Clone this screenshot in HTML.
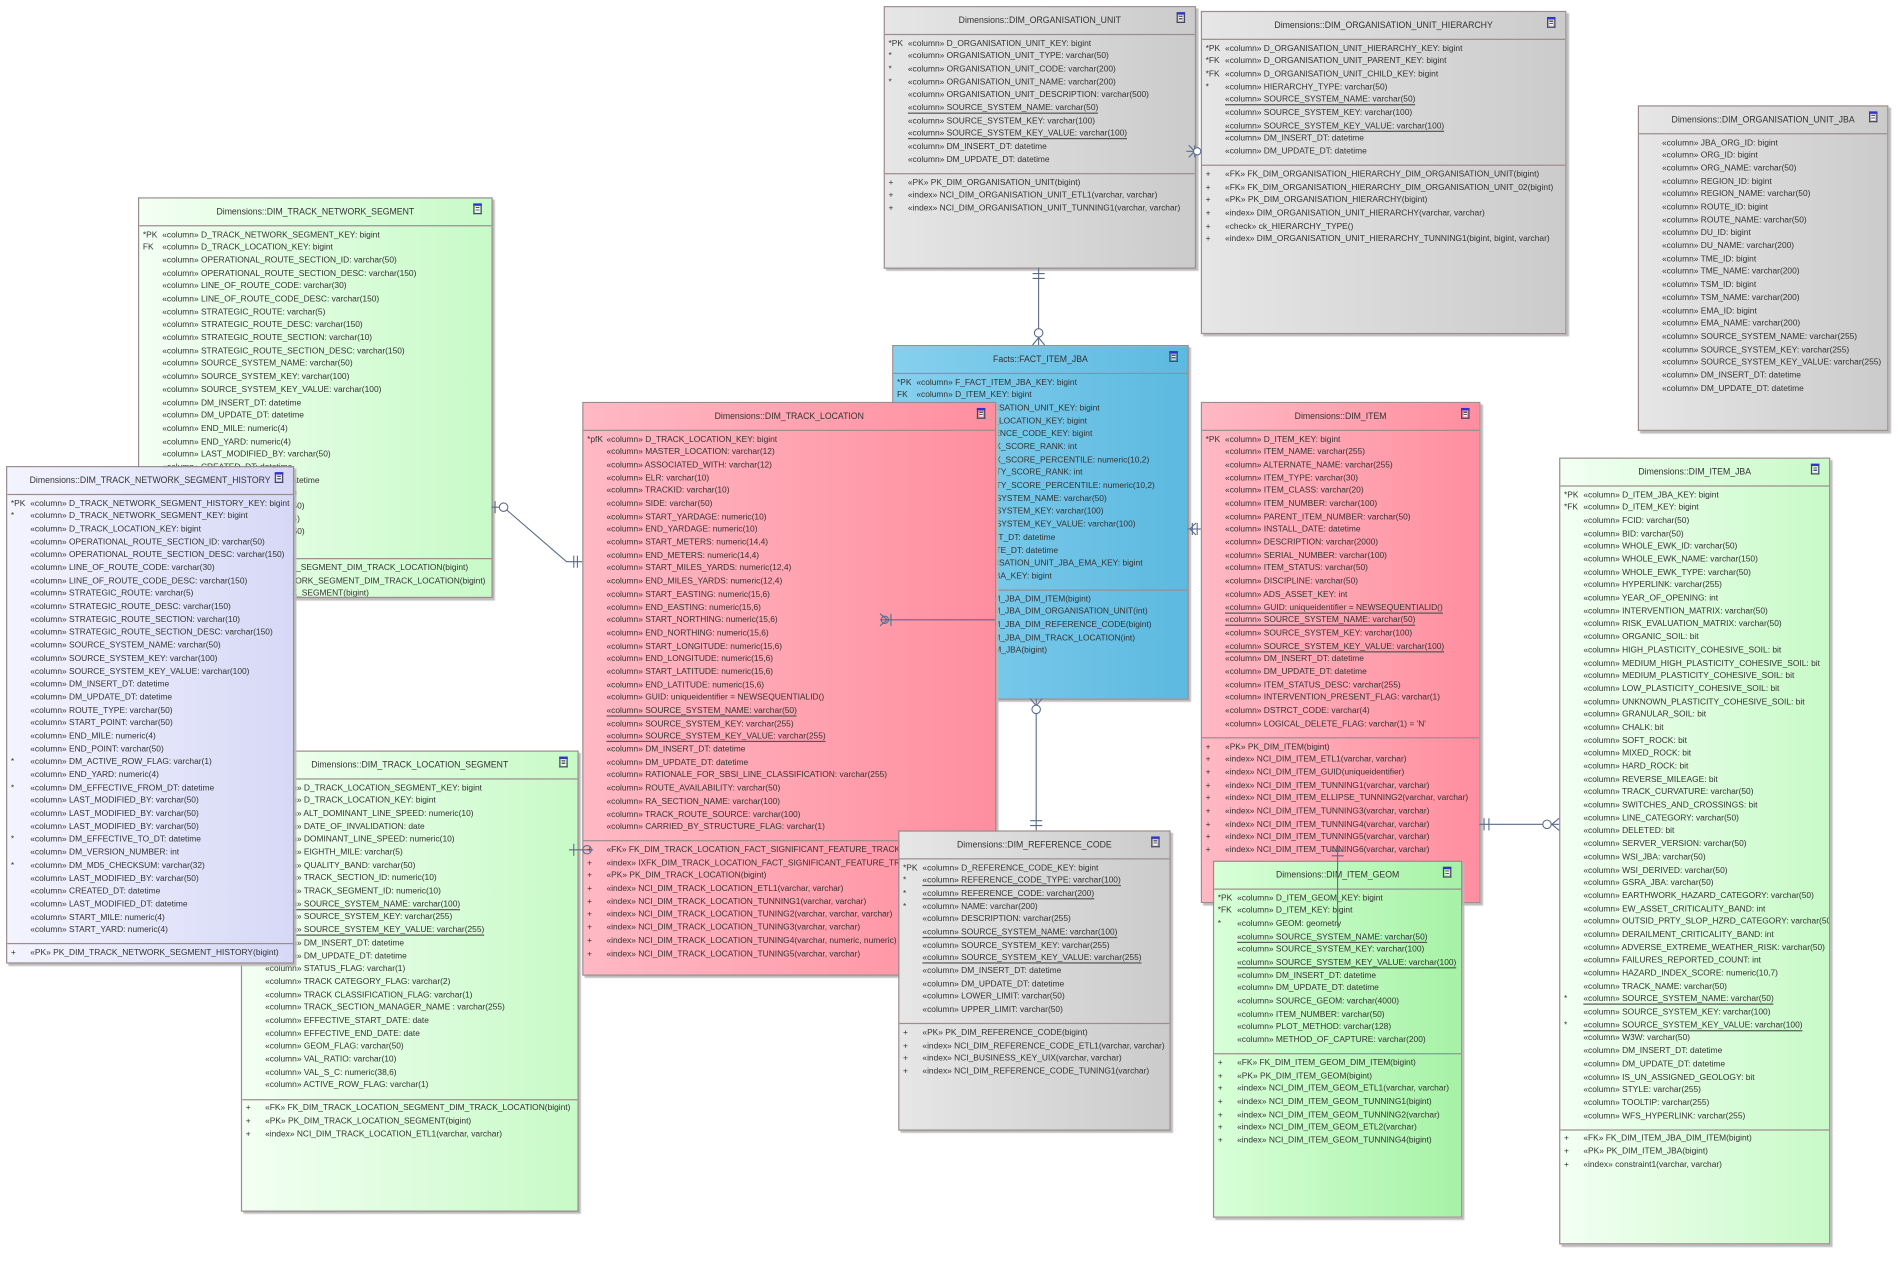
<!DOCTYPE html>
<html><head><meta charset="utf-8"><style>
html,body{margin:0;padding:0;background:#fff;width:1898px;height:1274px;overflow:hidden}
#w{position:absolute;left:0;top:0;width:1568px;height:1053px;transform:scale(1.2105);transform-origin:0 0;font-family:"Liberation Sans Narrow","Liberation Sans",sans-serif;font-size:6.95px;color:#333}
.b{position:absolute;border:1px solid #9c8c8c;box-shadow:2px 2px 1px #bbb;overflow:hidden;box-sizing:border-box}
.hd{height:22px;line-height:22px;text-align:center;border-bottom:1px solid #9c8c8c;position:relative;font-size:7.2px}
.hd:after{content:"";position:absolute;right:8px;top:4px;width:7px;height:9px;background:#fff;border:1px solid #446;border-top:2px solid #33c;box-sizing:border-box;background-image:repeating-linear-gradient(#fff 0 1px,#556 1px 2px);background-clip:content-box;padding:1px}
.s{padding:2.6px 0 4.5px 0}
.m{border-top:1px solid #9c8c8c}
.r{position:relative;line-height:10.7px;height:10.7px;white-space:nowrap;padding-left:19px}
.r i{position:absolute;left:3px;font-style:normal}
.u{border-bottom:1px solid #555}
.g{background:linear-gradient(90deg,#e6e6e6,#cbcbcb)}
.gr{background:linear-gradient(90deg,#f3fff3,#c8fac8)}
.gr2{background:linear-gradient(90deg,#d8ffd8,#a6f2a6)}
.pk{background:linear-gradient(90deg,#ffb9c4,#ff8e9f)}
.bl{background:linear-gradient(90deg,#86d0ee,#5cb9e0)}
.lv{background:linear-gradient(90deg,#f4f4ff,#d6d8f6)}
svg{position:absolute;left:0;top:0;overflow:visible}
</style></head><body><div id="w">

<!-- TRACK NETWORK SEGMENT -->
<div class="b gr" style="left:114px;top:163px;width:293px;height:331px">
<div class="hd">Dimensions::DIM_TRACK_NETWORK_SEGMENT</div>
<div class="s">
<div class="r"><i>*PK</i>«column» D_TRACK_NETWORK_SEGMENT_KEY: bigint</div>
<div class="r"><i>FK</i>«column» D_TRACK_LOCATION_KEY: bigint</div>
<div class="r">«column» OPERATIONAL_ROUTE_SECTION_ID: varchar(50)</div>
<div class="r">«column» OPERATIONAL_ROUTE_SECTION_DESC: varchar(150)</div>
<div class="r">«column» LINE_OF_ROUTE_CODE: varchar(30)</div>
<div class="r">«column» LINE_OF_ROUTE_CODE_DESC: varchar(150)</div>
<div class="r">«column» STRATEGIC_ROUTE: varchar(5)</div>
<div class="r">«column» STRATEGIC_ROUTE_DESC: varchar(150)</div>
<div class="r">«column» STRATEGIC_ROUTE_SECTION: varchar(10)</div>
<div class="r">«column» STRATEGIC_ROUTE_SECTION_DESC: varchar(150)</div>
<div class="r">«column» SOURCE_SYSTEM_NAME: varchar(50)</div>
<div class="r">«column» SOURCE_SYSTEM_KEY: varchar(100)</div>
<div class="r">«column» SOURCE_SYSTEM_KEY_VALUE: varchar(100)</div>
<div class="r">«column» DM_INSERT_DT: datetime</div>
<div class="r">«column» DM_UPDATE_DT: datetime</div>
<div class="r">«column» END_MILE: numeric(4)</div>
<div class="r">«column» END_YARD: numeric(4)</div>
<div class="r">«column» LAST_MODIFIED_BY: varchar(50)</div>
<div class="r">«column» CREATED_DT: datetime</div>
<div class="r">«column» LAST_MODIFIED_DT: datetime</div>
<div class="r">«column» START_MILE: numeric(4)</div>
<div class="r">«column» ROUTE_TYPE: varchar(50)</div>
<div class="r">«column» START_YARD: numeric(4)</div>
<div class="r">«column» START_POINT: varchar(50)</div>
<div class="r">«column» END_POINT: varchar(50)</div>
</div>
<div class="s m">
<div class="r"><i>+</i>«FK» FK_DIM_TRACK_NETWORK_SEGMENT_DIM_TRACK_LOCATION(bigint)</div>
<div class="r"><i>+</i>«index» IXFK_DIM_TRACK_NETWORK_SEGMENT_DIM_TRACK_LOCATION(bigint)</div>
<div class="r"><i>+</i>«PK» PK_DIM_TRACK_NETWORK_SEGMENT(bigint)</div>
</div></div>

<!-- TRACK LOCATION SEGMENT -->
<div class="b gr" style="left:199px;top:620px;width:279px;height:381px">
<div class="hd">Dimensions::DIM_TRACK_LOCATION_SEGMENT</div>
<div class="s">
<div class="r"><i>*PK</i>«column» D_TRACK_LOCATION_SEGMENT_KEY: bigint</div>
<div class="r"><i>FK</i>«column» D_TRACK_LOCATION_KEY: bigint</div>
<div class="r">«column» ALT_DOMINANT_LINE_SPEED: numeric(10)</div>
<div class="r">«column» DATE_OF_INVALIDATION: date</div>
<div class="r">«column» DOMINANT_LINE_SPEED: numeric(10)</div>
<div class="r">«column» EIGHTH_MILE: varchar(5)</div>
<div class="r">«column» QUALITY_BAND: varchar(50)</div>
<div class="r">«column» TRACK_SECTION_ID: numeric(10)</div>
<div class="r">«column» TRACK_SEGMENT_ID: numeric(10)</div>
<div class="r"><span class="u">«column» SOURCE_SYSTEM_NAME: varchar(100)</span></div>
<div class="r">«column» SOURCE_SYSTEM_KEY: varchar(255)</div>
<div class="r"><span class="u">«column» SOURCE_SYSTEM_KEY_VALUE: varchar(255)</span></div>
<div class="r">«column» DM_INSERT_DT: datetime</div>
<div class="r">«column» DM_UPDATE_DT: datetime</div>
<div class="r">«column» STATUS_FLAG: varchar(1)</div>
<div class="r">«column» TRACK CATEGORY_FLAG: varchar(2)</div>
<div class="r">«column» TRACK CLASSIFICATION_FLAG: varchar(1)</div>
<div class="r">«column» TRACK_SECTION_MANAGER_NAME : varchar(255)</div>
<div class="r">«column» EFFECTIVE_START_DATE: date</div>
<div class="r">«column» EFFECTIVE_END_DATE: date</div>
<div class="r">«column» GEOM_FLAG: varchar(50)</div>
<div class="r">«column» VAL_RATIO: varchar(10)</div>
<div class="r">«column» VAL_S_C: numeric(38,6)</div>
<div class="r">«column» ACTIVE_ROW_FLAG: varchar(1)</div>
</div>
<div class="s m">
<div class="r"><i>+</i>«FK» FK_DIM_TRACK_LOCATION_SEGMENT_DIM_TRACK_LOCATION(bigint)</div>
<div class="r"><i>+</i>«PK» PK_DIM_TRACK_LOCATION_SEGMENT(bigint)</div>
<div class="r"><i>+</i>«index» NCI_DIM_TRACK_LOCATION_ETL1(varchar, varchar)</div>
</div></div>

<!-- HISTORY -->
<div class="b lv" style="left:5px;top:385px;width:238px;height:411px">
<div class="hd">Dimensions::DIM_TRACK_NETWORK_SEGMENT_HISTORY</div>
<div class="s">
<div class="r"><i>*PK</i>«column» D_TRACK_NETWORK_SEGMENT_HISTORY_KEY: bigint</div>
<div class="r"><i>*</i>«column» D_TRACK_NETWORK_SEGMENT_KEY: bigint</div>
<div class="r">«column» D_TRACK_LOCATION_KEY: bigint</div>
<div class="r">«column» OPERATIONAL_ROUTE_SECTION_ID: varchar(50)</div>
<div class="r">«column» OPERATIONAL_ROUTE_SECTION_DESC: varchar(150)</div>
<div class="r">«column» LINE_OF_ROUTE_CODE: varchar(30)</div>
<div class="r">«column» LINE_OF_ROUTE_CODE_DESC: varchar(150)</div>
<div class="r">«column» STRATEGIC_ROUTE: varchar(5)</div>
<div class="r">«column» STRATEGIC_ROUTE_DESC: varchar(150)</div>
<div class="r">«column» STRATEGIC_ROUTE_SECTION: varchar(10)</div>
<div class="r">«column» STRATEGIC_ROUTE_SECTION_DESC: varchar(150)</div>
<div class="r">«column» SOURCE_SYSTEM_NAME: varchar(50)</div>
<div class="r">«column» SOURCE_SYSTEM_KEY: varchar(100)</div>
<div class="r">«column» SOURCE_SYSTEM_KEY_VALUE: varchar(100)</div>
<div class="r">«column» DM_INSERT_DT: datetime</div>
<div class="r">«column» DM_UPDATE_DT: datetime</div>
<div class="r">«column» ROUTE_TYPE: varchar(50)</div>
<div class="r">«column» START_POINT: varchar(50)</div>
<div class="r">«column» END_MILE: numeric(4)</div>
<div class="r">«column» END_POINT: varchar(50)</div>
<div class="r"><i>*</i>«column» DM_ACTIVE_ROW_FLAG: varchar(1)</div>
<div class="r">«column» END_YARD: numeric(4)</div>
<div class="r"><i>*</i>«column» DM_EFFECTIVE_FROM_DT: datetime</div>
<div class="r">«column» LAST_MODIFIED_BY: varchar(50)</div>
<div class="r">«column» LAST_MODIFIED_BY: varchar(50)</div>
<div class="r">«column» LAST_MODIFIED_BY: varchar(50)</div>
<div class="r"><i>*</i>«column» DM_EFFECTIVE_TO_DT: datetime</div>
<div class="r">«column» DM_VERSION_NUMBER: int</div>
<div class="r"><i>*</i>«column» DM_MD5_CHECKSUM: varchar(32)</div>
<div class="r">«column» LAST_MODIFIED_BY: varchar(50)</div>
<div class="r">«column» CREATED_DT: datetime</div>
<div class="r">«column» LAST_MODIFIED_DT: datetime</div>
<div class="r">«column» START_MILE: numeric(4)</div>
<div class="r">«column» START_YARD: numeric(4)</div>
</div>
<div class="s m">
<div class="r"><i>+</i>«PK» PK_DIM_TRACK_NETWORK_SEGMENT_HISTORY(bigint)</div>
</div></div>

<!-- ORG UNIT -->
<div class="b g" style="left:730px;top:5px;width:258px;height:217px">
<div class="hd">Dimensions::DIM_ORGANISATION_UNIT</div>
<div class="s">
<div class="r"><i>*PK</i>«column» D_ORGANISATION_UNIT_KEY: bigint</div>
<div class="r"><i>*</i>«column» ORGANISATION_UNIT_TYPE: varchar(50)</div>
<div class="r"><i>*</i>«column» ORGANISATION_UNIT_CODE: varchar(200)</div>
<div class="r"><i>*</i>«column» ORGANISATION_UNIT_NAME: varchar(200)</div>
<div class="r">«column» ORGANISATION_UNIT_DESCRIPTION: varchar(500)</div>
<div class="r"><span class="u">«column» SOURCE_SYSTEM_NAME: varchar(50)</span></div>
<div class="r">«column» SOURCE_SYSTEM_KEY: varchar(100)</div>
<div class="r"><span class="u">«column» SOURCE_SYSTEM_KEY_VALUE: varchar(100)</span></div>
<div class="r">«column» DM_INSERT_DT: datetime</div>
<div class="r">«column» DM_UPDATE_DT: datetime</div>
</div>
<div class="s m">
<div class="r"><i>+</i>«PK» PK_DIM_ORGANISATION_UNIT(bigint)</div>
<div class="r"><i>+</i>«index» NCI_DIM_ORGANISATION_UNIT_ETL1(varchar, varchar)</div>
<div class="r"><i>+</i>«index» NCI_DIM_ORGANISATION_UNIT_TUNNING1(varchar, varchar)</div>
</div></div>

<!-- HIERARCHY -->
<div class="b g" style="left:992px;top:9px;width:302px;height:267px">
<div class="hd">Dimensions::DIM_ORGANISATION_UNIT_HIERARCHY</div>
<div class="s">
<div class="r"><i>*PK</i>«column» D_ORGANISATION_UNIT_HIERARCHY_KEY: bigint</div>
<div class="r"><i>*FK</i>«column» D_ORGANISATION_UNIT_PARENT_KEY: bigint</div>
<div class="r"><i>*FK</i>«column» D_ORGANISATION_UNIT_CHILD_KEY: bigint</div>
<div class="r"><i>*</i>«column» HIERARCHY_TYPE: varchar(50)</div>
<div class="r"><span class="u">«column» SOURCE_SYSTEM_NAME: varchar(50)</span></div>
<div class="r">«column» SOURCE_SYSTEM_KEY: varchar(100)</div>
<div class="r"><span class="u">«column» SOURCE_SYSTEM_KEY_VALUE: varchar(100)</span></div>
<div class="r">«column» DM_INSERT_DT: datetime</div>
<div class="r">«column» DM_UPDATE_DT: datetime</div>
</div>
<div class="s m">
<div class="r"><i>+</i>«FK» FK_DIM_ORGANISATION_HIERARCHY_DIM_ORGANISATION_UNIT(bigint)</div>
<div class="r"><i>+</i>«FK» FK_DIM_ORGANISATION_HIERARCHY_DIM_ORGANISATION_UNIT_02(bigint)</div>
<div class="r"><i>+</i>«PK» PK_DIM_ORGANISATION_HIERARCHY(bigint)</div>
<div class="r"><i>+</i>«index» DIM_ORGANISATION_UNIT_HIERARCHY(varchar, varchar)</div>
<div class="r"><i>+</i>«check» ck_HIERARCHY_TYPE()</div>
<div class="r"><i>+</i>«index» DIM_ORGANISATION_UNIT_HIERARCHY_TUNNING1(bigint, bigint, varchar)</div>
</div></div>

<!-- ORG UNIT JBA -->
<div class="b g" style="left:1353px;top:87px;width:207px;height:269px">
<div class="hd">Dimensions::DIM_ORGANISATION_UNIT_JBA</div>
<div class="s">
<div class="r">«column» JBA_ORG_ID: bigint</div>
<div class="r">«column» ORG_ID: bigint</div>
<div class="r">«column» ORG_NAME: varchar(50)</div>
<div class="r">«column» REGION_ID: bigint</div>
<div class="r">«column» REGION_NAME: varchar(50)</div>
<div class="r">«column» ROUTE_ID: bigint</div>
<div class="r">«column» ROUTE_NAME: varchar(50)</div>
<div class="r">«column» DU_ID: bigint</div>
<div class="r">«column» DU_NAME: varchar(200)</div>
<div class="r">«column» TME_ID: bigint</div>
<div class="r">«column» TME_NAME: varchar(200)</div>
<div class="r">«column» TSM_ID: bigint</div>
<div class="r">«column» TSM_NAME: varchar(200)</div>
<div class="r">«column» EMA_ID: bigint</div>
<div class="r">«column» EMA_NAME: varchar(200)</div>
<div class="r">«column» SOURCE_SYSTEM_NAME: varchar(255)</div>
<div class="r">«column» SOURCE_SYSTEM_KEY: varchar(255)</div>
<div class="r">«column» SOURCE_SYSTEM_KEY_VALUE: varchar(255)</div>
<div class="r">«column» DM_INSERT_DT: datetime</div>
<div class="r">«column» DM_UPDATE_DT: datetime</div>
</div></div>

<!-- FACT -->
<div class="b bl" style="left:737px;top:285px;width:245px;height:293px">
<div class="hd">Facts::FACT_ITEM_JBA</div>
<div class="s">
<div class="r"><i>*PK</i>«column» F_FACT_ITEM_JBA_KEY: bigint</div>
<div class="r"><i>FK</i>«column» D_ITEM_KEY: bigint</div>
<div class="r"><i>FK</i>«column» D_ORGANISATION_UNIT_KEY: bigint</div>
<div class="r"><i>FK</i>«column» D_TRACK_LOCATION_KEY: bigint</div>
<div class="r"><i>FK</i>«column» D_REFERENCE_CODE_KEY: bigint</div>
<div class="r">«column» JBA_INDEX_SCORE_RANK: int</div>
<div class="r">«column» JBA_INDEX_SCORE_PERCENTILE: numeric(10,2)</div>
<div class="r">«column» CRITICALITY_SCORE_RANK: int</div>
<div class="r">«column» CRITICALITY_SCORE_PERCENTILE: numeric(10,2)</div>
<div class="r">«column» SOURCE_SYSTEM_NAME: varchar(50)</div>
<div class="r">«column» SOURCE_SYSTEM_KEY: varchar(100)</div>
<div class="r">«column» SOURCE_SYSTEM_KEY_VALUE: varchar(100)</div>
<div class="r">«column» DM_INSERT_DT: datetime</div>
<div class="r">«column» DM_UPDATE_DT: datetime</div>
<div class="r">«column» D_ORGANISATION_UNIT_JBA_EMA_KEY: bigint</div>
<div class="r">«column» D_ITEM_JBA_KEY: bigint</div>
</div>
<div class="s m">
<div class="r"><i>+</i>«FK» FK_FACT_ITEM_JBA_DIM_ITEM(bigint)</div>
<div class="r"><i>+</i>«FK» FK_FACT_ITEM_JBA_DIM_ORGANISATION_UNIT(int)</div>
<div class="r"><i>+</i>«FK» FK_FACT_ITEM_JBA_DIM_REFERENCE_CODE(bigint)</div>
<div class="r"><i>+</i>«FK» FK_FACT_ITEM_JBA_DIM_TRACK_LOCATION(int)</div>
<div class="r"><i>+</i>«PK» PK_FACT_ITEM_JBA(bigint)</div>
</div></div>

<!-- TRACK LOCATION -->
<div class="b pk" style="left:481px;top:332px;width:342px;height:474px">
<div class="hd">Dimensions::DIM_TRACK_LOCATION</div>
<div class="s">
<div class="r"><i>*pfK</i>«column» D_TRACK_LOCATION_KEY: bigint</div>
<div class="r">«column» MASTER_LOCATION: varchar(12)</div>
<div class="r">«column» ASSOCIATED_WITH: varchar(12)</div>
<div class="r">«column» ELR: varchar(10)</div>
<div class="r">«column» TRACKID: varchar(10)</div>
<div class="r">«column» SIDE: varchar(50)</div>
<div class="r">«column» START_YARDAGE: numeric(10)</div>
<div class="r">«column» END_YARDAGE: numeric(10)</div>
<div class="r">«column» START_METERS: numeric(14,4)</div>
<div class="r">«column» END_METERS: numeric(14,4)</div>
<div class="r">«column» START_MILES_YARDS: numeric(12,4)</div>
<div class="r">«column» END_MILES_YARDS: numeric(12,4)</div>
<div class="r">«column» START_EASTING: numeric(15,6)</div>
<div class="r">«column» END_EASTING: numeric(15,6)</div>
<div class="r">«column» START_NORTHING: numeric(15,6)</div>
<div class="r">«column» END_NORTHING: numeric(15,6)</div>
<div class="r">«column» START_LONGITUDE: numeric(15,6)</div>
<div class="r">«column» END_LONGITUDE: numeric(15,6)</div>
<div class="r">«column» START_LATITUDE: numeric(15,6)</div>
<div class="r">«column» END_LATITUDE: numeric(15,6)</div>
<div class="r">«column» GUID: uniqueidentifier = NEWSEQUENTIALID()</div>
<div class="r"><span class="u">«column» SOURCE_SYSTEM_NAME: varchar(50)</span></div>
<div class="r">«column» SOURCE_SYSTEM_KEY: varchar(255)</div>
<div class="r"><span class="u">«column» SOURCE_SYSTEM_KEY_VALUE: varchar(255)</span></div>
<div class="r">«column» DM_INSERT_DT: datetime</div>
<div class="r">«column» DM_UPDATE_DT: datetime</div>
<div class="r">«column» RATIONALE_FOR_SBSI_LINE_CLASSIFICATION: varchar(255)</div>
<div class="r">«column» ROUTE_AVAILABILITY: varchar(50)</div>
<div class="r">«column» RA_SECTION_NAME: varchar(100)</div>
<div class="r">«column» TRACK_ROUTE_SOURCE: varchar(100)</div>
<div class="r">«column» CARRIED_BY_STRUCTURE_FLAG: varchar(1)</div>
</div>
<div class="s m">
<div class="r"><i>+</i>«FK» FK_DIM_TRACK_LOCATION_FACT_SIGNIFICANT_FEATURE_TRACK_LOCATION(bigint)</div>
<div class="r"><i>+</i>«index» IXFK_DIM_TRACK_LOCATION_FACT_SIGNIFICANT_FEATURE_TRACK_LOCATION(bigint)</div>
<div class="r"><i>+</i>«PK» PK_DIM_TRACK_LOCATION(bigint)</div>
<div class="r"><i>+</i>«index» NCI_DIM_TRACK_LOCATION_ETL1(varchar, varchar)</div>
<div class="r"><i>+</i>«index» NCI_DIM_TRACK_LOCATION_TUNNING1(varchar, varchar)</div>
<div class="r"><i>+</i>«index» NCI_DIM_TRACK_LOCATION_TUNING2(varchar, varchar, varchar)</div>
<div class="r"><i>+</i>«index» NCI_DIM_TRACK_LOCATION_TUNING3(varchar, varchar)</div>
<div class="r"><i>+</i>«index» NCI_DIM_TRACK_LOCATION_TUNING4(varchar, numeric, numeric)</div>
<div class="r"><i>+</i>«index» NCI_DIM_TRACK_LOCATION_TUNING5(varchar, varchar)</div>
</div></div>

<!-- REFERENCE CODE -->
<div class="b g" style="left:742px;top:686px;width:225px;height:248px">
<div class="hd">Dimensions::DIM_REFERENCE_CODE</div>
<div class="s">
<div class="r"><i>*PK</i>«column» D_REFERENCE_CODE_KEY: bigint</div>
<div class="r"><i>*</i><span class="u">«column» REFERENCE_CODE_TYPE: varchar(100)</span></div>
<div class="r"><i>*</i><span class="u">«column» REFERENCE_CODE: varchar(200)</span></div>
<div class="r"><i>*</i>«column» NAME: varchar(200)</div>
<div class="r">«column» DESCRIPTION: varchar(255)</div>
<div class="r"><span class="u">«column» SOURCE_SYSTEM_NAME: varchar(100)</span></div>
<div class="r">«column» SOURCE_SYSTEM_KEY: varchar(255)</div>
<div class="r"><span class="u">«column» SOURCE_SYSTEM_KEY_VALUE: varchar(255)</span></div>
<div class="r">«column» DM_INSERT_DT: datetime</div>
<div class="r">«column» DM_UPDATE_DT: datetime</div>
<div class="r">«column» LOWER_LIMIT: varchar(50)</div>
<div class="r">«column» UPPER_LIMIT: varchar(50)</div>
</div>
<div class="s m">
<div class="r"><i>+</i>«PK» PK_DIM_REFERENCE_CODE(bigint)</div>
<div class="r"><i>+</i>«index» NCI_DIM_REFERENCE_CODE_ETL1(varchar, varchar)</div>
<div class="r"><i>+</i>«index» NCI_BUSINESS_KEY_UIX(varchar, varchar)</div>
<div class="r"><i>+</i>«index» NCI_DIM_REFERENCE_CODE_TUNING1(varchar)</div>
</div></div>

<!-- DIM ITEM -->
<div class="b pk" style="left:992px;top:332px;width:231px;height:414px">
<div class="hd">Dimensions::DIM_ITEM</div>
<div class="s">
<div class="r"><i>*PK</i>«column» D_ITEM_KEY: bigint</div>
<div class="r">«column» ITEM_NAME: varchar(255)</div>
<div class="r">«column» ALTERNATE_NAME: varchar(255)</div>
<div class="r">«column» ITEM_TYPE: varchar(30)</div>
<div class="r">«column» ITEM_CLASS: varchar(20)</div>
<div class="r">«column» ITEM_NUMBER: varchar(100)</div>
<div class="r">«column» PARENT_ITEM_NUMBER: varchar(50)</div>
<div class="r">«column» INSTALL_DATE: datetime</div>
<div class="r">«column» DESCRIPTION: varchar(2000)</div>
<div class="r">«column» SERIAL_NUMBER: varchar(100)</div>
<div class="r">«column» ITEM_STATUS: varchar(50)</div>
<div class="r">«column» DISCIPLINE: varchar(50)</div>
<div class="r">«column» ADS_ASSET_KEY: int</div>
<div class="r"><span class="u">«column» GUID: uniqueidentifier = NEWSEQUENTIALID()</span></div>
<div class="r"><span class="u">«column» SOURCE_SYSTEM_NAME: varchar(50)</span></div>
<div class="r">«column» SOURCE_SYSTEM_KEY: varchar(100)</div>
<div class="r"><span class="u">«column» SOURCE_SYSTEM_KEY_VALUE: varchar(100)</span></div>
<div class="r">«column» DM_INSERT_DT: datetime</div>
<div class="r">«column» DM_UPDATE_DT: datetime</div>
<div class="r">«column» ITEM_STATUS_DESC: varchar(255)</div>
<div class="r">«column» INTERVENTION_PRESENT_FLAG: varchar(1)</div>
<div class="r">«column» DSTRCT_CODE: varchar(4)</div>
<div class="r">«column» LOGICAL_DELETE_FLAG: varchar(1) = 'N'</div>
</div>
<div class="s m">
<div class="r"><i>+</i>«PK» PK_DIM_ITEM(bigint)</div>
<div class="r"><i>+</i>«index» NCI_DIM_ITEM_ETL1(varchar, varchar)</div>
<div class="r"><i>+</i>«index» NCI_DIM_ITEM_GUID(uniqueidentifier)</div>
<div class="r"><i>+</i>«index» NCI_DIM_ITEM_TUNNING1(varchar, varchar)</div>
<div class="r"><i>+</i>«index» NCI_DIM_ITEM_ELLIPSE_TUNNING2(varchar, varchar)</div>
<div class="r"><i>+</i>«index» NCI_DIM_ITEM_TUNNING3(varchar, varchar)</div>
<div class="r"><i>+</i>«index» NCI_DIM_ITEM_TUNNING4(varchar, varchar)</div>
<div class="r"><i>+</i>«index» NCI_DIM_ITEM_TUNNING5(varchar, varchar)</div>
<div class="r"><i>+</i>«index» NCI_DIM_ITEM_TUNNING6(varchar, varchar)</div>
</div></div>

<!-- ITEM GEOM -->
<div class="b gr2" style="left:1002px;top:711px;width:206px;height:295px">
<div class="hd">Dimensions::DIM_ITEM_GEOM</div>
<div class="s">
<div class="r"><i>*PK</i>«column» D_ITEM_GEOM_KEY: bigint</div>
<div class="r"><i>*FK</i>«column» D_ITEM_KEY: bigint</div>
<div class="r"><i>*</i>«column» GEOM: geometry</div>
<div class="r"><span class="u">«column» SOURCE_SYSTEM_NAME: varchar(50)</span></div>
<div class="r">«column» SOURCE_SYSTEM_KEY: varchar(100)</div>
<div class="r"><span class="u">«column» SOURCE_SYSTEM_KEY_VALUE: varchar(100)</span></div>
<div class="r">«column» DM_INSERT_DT: datetime</div>
<div class="r">«column» DM_UPDATE_DT: datetime</div>
<div class="r">«column» SOURCE_GEOM: varchar(4000)</div>
<div class="r">«column» ITEM_NUMBER: varchar(50)</div>
<div class="r">«column» PLOT_METHOD: varchar(128)</div>
<div class="r">«column» METHOD_OF_CAPTURE: varchar(200)</div>
</div>
<div class="s m">
<div class="r"><i>+</i>«FK» FK_DIM_ITEM_GEOM_DIM_ITEM(bigint)</div>
<div class="r"><i>+</i>«PK» PK_DIM_ITEM_GEOM(bigint)</div>
<div class="r"><i>+</i>«index» NCI_DIM_ITEM_GEOM_ETL1(varchar, varchar)</div>
<div class="r"><i>+</i>«index» NCI_DIM_ITEM_GEOM_TUNNING1(bigint)</div>
<div class="r"><i>+</i>«index» NCI_DIM_ITEM_GEOM_TUNNING2(varchar)</div>
<div class="r"><i>+</i>«index» NCI_DIM_ITEM_GEOM_ETL2(varchar)</div>
<div class="r"><i>+</i>«index» NCI_DIM_ITEM_GEOM_TUNNING4(bigint)</div>
</div></div>

<!-- ITEM JBA -->
<div class="b gr" style="left:1288px;top:378px;width:224px;height:650px">
<div class="hd">Dimensions::DIM_ITEM_JBA</div>
<div class="s">
<div class="r"><i>*PK</i>«column» D_ITEM_JBA_KEY: bigint</div>
<div class="r"><i>*FK</i>«column» D_ITEM_KEY: bigint</div>
<div class="r">«column» FCID: varchar(50)</div>
<div class="r">«column» BID: varchar(50)</div>
<div class="r">«column» WHOLE_EWK_ID: varchar(50)</div>
<div class="r">«column» WHOLE_EWK_NAME: varchar(150)</div>
<div class="r">«column» WHOLE_EWK_TYPE: varchar(50)</div>
<div class="r">«column» HYPERLINK: varchar(255)</div>
<div class="r">«column» YEAR_OF_OPENING: int</div>
<div class="r">«column» INTERVENTION_MATRIX: varchar(50)</div>
<div class="r">«column» RISK_EVALUATION_MATRIX: varchar(50)</div>
<div class="r">«column» ORGANIC_SOIL: bit</div>
<div class="r">«column» HIGH_PLASTICITY_COHESIVE_SOIL: bit</div>
<div class="r">«column» MEDIUM_HIGH_PLASTICITY_COHESIVE_SOIL: bit</div>
<div class="r">«column» MEDIUM_PLASTICITY_COHESIVE_SOIL: bit</div>
<div class="r">«column» LOW_PLASTICITY_COHESIVE_SOIL: bit</div>
<div class="r">«column» UNKNOWN_PLASTICITY_COHESIVE_SOIL: bit</div>
<div class="r">«column» GRANULAR_SOIL: bit</div>
<div class="r">«column» CHALK: bit</div>
<div class="r">«column» SOFT_ROCK: bit</div>
<div class="r">«column» MIXED_ROCK: bit</div>
<div class="r">«column» HARD_ROCK: bit</div>
<div class="r">«column» REVERSE_MILEAGE: bit</div>
<div class="r">«column» TRACK_CURVATURE: varchar(50)</div>
<div class="r">«column» SWITCHES_AND_CROSSINGS: bit</div>
<div class="r">«column» LINE_CATEGORY: varchar(50)</div>
<div class="r">«column» DELETED: bit</div>
<div class="r">«column» SERVER_VERSION: varchar(50)</div>
<div class="r">«column» WSI_JBA: varchar(50)</div>
<div class="r">«column» WSI_DERIVED: varchar(50)</div>
<div class="r">«column» GSRA_JBA: varchar(50)</div>
<div class="r">«column» EARTHWORK_HAZARD_CATEGORY: varchar(50)</div>
<div class="r">«column» EW_ASSET_CRITICALITY_BAND: int</div>
<div class="r">«column» OUTSID_PRTY_SLOP_HZRD_CATEGORY: varchar(50)</div>
<div class="r">«column» DERAILMENT_CRITICALITY_BAND: int</div>
<div class="r">«column» ADVERSE_EXTREME_WEATHER_RISK: varchar(50)</div>
<div class="r">«column» FAILURES_REPORTED_COUNT: int</div>
<div class="r">«column» HAZARD_INDEX_SCORE: numeric(10,7)</div>
<div class="r">«column» TRACK_NAME: varchar(50)</div>
<div class="r"><i>*</i><span class="u">«column» SOURCE_SYSTEM_NAME: varchar(50)</span></div>
<div class="r">«column» SOURCE_SYSTEM_KEY: varchar(100)</div>
<div class="r"><i>*</i><span class="u">«column» SOURCE_SYSTEM_KEY_VALUE: varchar(100)</span></div>
<div class="r">«column» W3W: varchar(50)</div>
<div class="r">«column» DM_INSERT_DT: datetime</div>
<div class="r">«column» DM_UPDATE_DT: datetime</div>
<div class="r">«column» IS_UN_ASSIGNED_GEOLOGY: bit</div>
<div class="r">«column» STYLE: varchar(255)</div>
<div class="r">«column» TOOLTIP: varchar(255)</div>
<div class="r">«column» WFS_HYPERLINK: varchar(255)</div>
</div>
<div class="s m">
<div class="r"><i>+</i>«FK» FK_DIM_ITEM_JBA_DIM_ITEM(bigint)</div>
<div class="r"><i>+</i>«PK» PK_DIM_ITEM_JBA(bigint)</div>
<div class="r"><i>+</i>«index» constraint1(varchar, varchar)</div>
</div></div>

<svg width="1568" height="1053" fill="none" stroke="#5a6a8a" stroke-width="0.9">
<path d="M406 419 H416 L468 464 H481"/>
<path d="M409 414 V424"/><circle cx="416" cy="419" r="3.5" fill="#fff"/>
<path d="M474 459 V469 M477 459 V469"/>
<path d="M858 221 V285"/>
<path d="M853 226 H863 M853 230 H863"/>
<circle cx="858" cy="275" r="3.5" fill="#fff"/>
<path d="M858 279 L853 285 M858 279 L863 285"/>
<path d="M980 125 H992"/>
<path d="M987 125 L982 120 M987 125 L982 130 M987 120 V130"/>
<circle cx="989" cy="125" r="3" fill="#fff"/>
<path d="M981 437 H992"/>
<path d="M983 437 L988 432 M983 437 L988 442 M985 432 V442 M989 432 V442"/>
<path d="M727 512 H822"/>
<path d="M733 512 L727 507 M733 512 L727 517 M736 507 V517"/>
<circle cx="731" cy="512" r="3" />
<path d="M856 577 V686"/>
<path d="M856 583 L851 577 M856 583 L861 577"/>
<circle cx="856" cy="586" r="3.5" fill="#fff"/>
<path d="M851 678 H861 M851 682 H861"/>
<path d="M1222 681 H1288"/>
<path d="M1226 676 V686 M1230 676 V686"/>
<circle cx="1278" cy="681" r="3.5" fill="#fff"/>
<path d="M1282 681 L1288 676 M1282 681 L1288 686"/>
<path d="M1105 698 V765"/>
<path d="M1100 703 H1110 M1100 707 H1110"/>
<path d="M470 702 H490"/>
<path d="M474 697 V707"/><circle cx="485" cy="702" r="3.5" fill="none"/>
</svg>
</div></body></html>
